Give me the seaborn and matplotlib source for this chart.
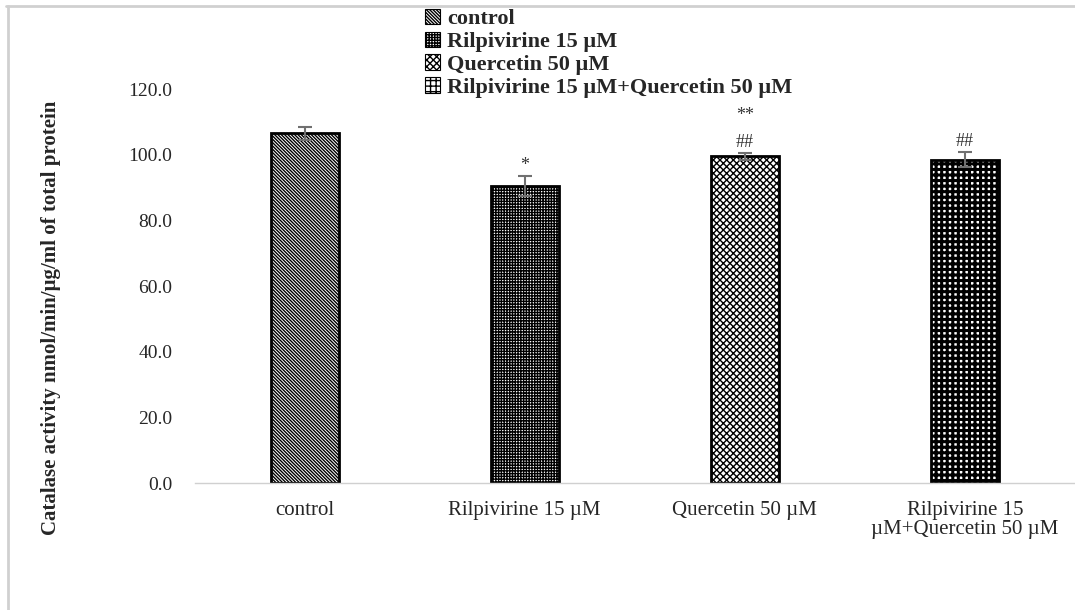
import matplotlib
matplotlib.use('Agg')
import matplotlib.pyplot as plt
import pandas as pd
import seaborn as sns
from matplotlib.lines import Line2D
from matplotlib.patches import Patch

# Values
groups = ['control', 'Rilpivirine 15 \u00b5M', 'Quercetin 50 \u00b5M',
          'Rilpivirine 15 \u00b5M+Quercetin 50 \u00b5M']
tick_labels = ['control', 'Rilpivirine 15 \u00b5M', 'Quercetin 50 \u00b5M',
               'Rilpivirine 15\n\u00b5M+Quercetin 50 \u00b5M']
means = [106.5, 90.5, 99.5, 98.5]
errors = [2.0, 3.0, 1.0, 2.2]
marks = ['', '*', '**\n\n##', '##']
hatches = ['\\' * 10, '++++++', 'xxxxx', '+++']

df = pd.DataFrame({'group': groups, 'value': means})

sns.set_style('white')
plt.rcParams['font.family'] = ['Liberation Serif', 'DejaVu Serif']
plt.rcParams['hatch.color'] = '#555555'
plt.rcParams['hatch.linewidth'] = 1.0

fig = plt.figure(figsize=(10.75, 6.1), dpi=100)
ax = fig.add_axes([0.181, 0.208, 0.819, 0.646])

sns.barplot(data=df, x='group', y='value', color='white', width=0.31,
            edgecolor='black', linewidth=2, errorbar=None, ax=ax)

for bar, h in zip(ax.patches, hatches):
    bar.set_hatch(h)
# the last bar is a coarse black/white checker in the original
if hasattr(ax.patches[3], 'set_hatch_linewidth'):
    ax.patches[3].set_hatch_linewidth(2.2)
if hasattr(ax.patches[3], 'set_hatchcolor'):
    ax.patches[3].set_hatchcolor('#222222')

# error bars
ax.errorbar(range(len(means)), means, yerr=errors, fmt='none',
            ecolor='#707070', elinewidth=1.5, capsize=5, capthick=1.5)

# significance marks
for i, (m, e, t) in enumerate(zip(means, errors, marks)):
    if t:
        ax.text(i, m + e + 0.6, t, ha='center', va='bottom', fontsize=13,
                color='#333333', linespacing=0.75)

ax.set_ylim(0, 120)
ax.set_xlim(-0.5, 3.5)
ax.set_yticks(range(0, 121, 20))
ax.set_yticklabels([f'{v:.1f}' for v in range(0, 121, 20)], fontsize=14)
ax.set_xticks(range(4))
ax.set_xticklabels(tick_labels, fontsize=15, linespacing=1.0)
ax.tick_params(axis='y', length=0, pad=16)
ax.tick_params(axis='x', length=0, pad=13)
ax.set_xlabel('')
ax.set_ylabel('Catalase activity nmol/min/\u00b5g/ml of total protein',
              fontsize=15, fontweight='bold')
ax.yaxis.set_label_coords(-0.152, 0.42)

sns.despine(ax=ax, left=True)
ax.spines['bottom'].set_color('#d0d0d0')
ax.spines['bottom'].set_linewidth(1)

handles = [Patch(facecolor='white', edgecolor='black', hatch=h, linewidth=0.8)
           for h in hatches]
fig.legend(handles, groups, loc='upper left', bbox_to_anchor=(0.387, 1.0),
           frameon=False, prop={'weight': 'bold', 'size': 16},
           handlelength=0.7, handleheight=0.7, handletextpad=0.3,
           labelspacing=0.1, borderaxespad=0)

# chart border visible on top and left edges
fig.add_artist(Line2D([0.006, 1.0], [0.99, 0.99], color='#d0d0d0', lw=2,
                      transform=fig.transFigure))
fig.add_artist(Line2D([0.007, 0.007], [0.0, 0.99], color='#d0d0d0', lw=2,
                      transform=fig.transFigure))

plt.savefig('out.png', dpi=100)
